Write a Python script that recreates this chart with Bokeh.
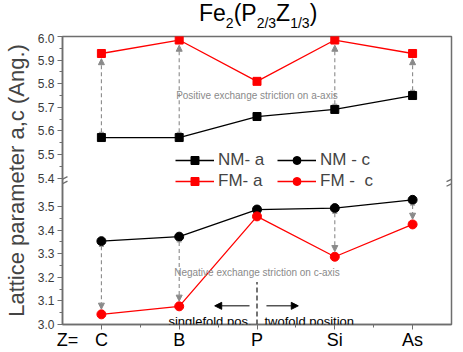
import numpy as np
from bokeh.plotting import figure
from bokeh.layouts import column
from bokeh.models import (FixedTicker, Arrow, NormalHead, TeeHead, Label,
                          Legend, LegendItem, ColumnDataSource, LinearAxis, Div)
from bokeh.embed import file_html
from bokeh.resources import INLINE

# ---------------- data ----------------
elements = ["C", "B", "P", "Si", "As"]
nm_a = [5.572, 5.572, 5.661, 5.691, 5.750]
fm_a = [5.928, 5.985, 5.810, 5.985, 5.928]
nm_c = [3.353, 3.372, 3.487, 3.493, 3.528]
fm_c = [3.043, 3.077, 3.458, 3.287, 3.424]
arrow_sites = ["C", "B", "Si", "As"]

lower_ticks = [3.0, 3.1, 3.2, 3.3, 3.4, 3.5]
upper_ticks = [5.4, 5.5, 5.6, 5.7, 5.8, 5.9, 6.0]

# ---------------- broken axis mapping ----------------
LOW_TOP = 3.5
UP_BOTTOM = 5.4
GAP = 0.12


def up(v):
    return v - UP_BOTTOM + LOW_TOP + GAP


FONT = "Liberation Sans"
RED = "#ff0000"
GRAY = "#8a8a8a"
FRAME = "#6e6e6e"

# frame pixel geometry (window coords) for placing decorations
FX0, FX1, FY0, FY1 = 60.0, 451.0, 38.3, 325.3
XR = (-0.5, 4.5)
YR = (3.0, up(6.0))


def xpx(px):
    return XR[0] + (px - FX0) / (FX1 - FX0) * (XR[1] - XR[0])


def ypx(py):
    return YR[0] + (FY1 - py) / (FY1 - FY0) * (YR[1] - YR[0])


x = list(range(len(elements)))

TITLE_H = 33
p = figure(width=463, height=352 - TITLE_H, x_range=XR, y_range=YR,
           output_backend="svg", toolbar_location=None,
           min_border_left=60, min_border_right=12, min_border_top=3,
           min_border_bottom=27, margin=0)
p.grid.visible = False
p.outline_line_color = FRAME
p.outline_line_width = 1.5
p.background_fill_color = "white"

# y axis
yt = lower_ticks + [up(v) for v in upper_ticks]
ymin = [v + 0.05 for v in lower_ticks[:-1]] + [up(v + 0.05) for v in upper_ticks[:-1]]
p.yaxis.ticker = FixedTicker(ticks=yt, minor_ticks=ymin)
overrides = {}
for v in lower_ticks:
    overrides[v] = f"{v:.1f}"
for v in upper_ticks:
    overrides[up(v)] = f"{v:.1f}"
p.yaxis.major_label_overrides = overrides
p.yaxis.axis_label = "Lattice parameter a,c (Ang.)"
p.yaxis.axis_label_text_font = FONT
p.yaxis.axis_label_text_font_size = "22px"
p.yaxis.axis_label_text_font_style = "normal"
p.yaxis.axis_label_standoff = 6
p.yaxis.major_label_text_font = FONT
p.yaxis.major_label_text_font_size = "12px"
p.yaxis.major_label_text_color = "#3a3a3a"
p.yaxis.major_label_standoff = 3

# x axis: tick marks only (closest to the frame)
p.xaxis.ticker = FixedTicker(ticks=x, minor_ticks=[i + 0.5 for i in x[:-1]])
p.xaxis.major_label_overrides = {i: "" for i in x}
p.xaxis.major_label_text_font_size = "1px"
p.xaxis.major_label_standoff = 0

for ax in (p.xaxis[0], p.yaxis[0]):
    ax.axis_line_color = FRAME
    ax.axis_line_width = 1.5
    ax.major_tick_line_color = FRAME
    ax.minor_tick_line_color = FRAME
    ax.major_tick_in = 0
    ax.major_tick_out = 5
    ax.minor_tick_in = 0
    ax.minor_tick_out = 3

# x axis labels (with the "Z=" prefix)
Z_POS = xpx(65)
lab_axis = LinearAxis(ticker=FixedTicker(ticks=[Z_POS] + x, minor_ticks=[]),
                      major_label_overrides={Z_POS: "Z=", **{i: e for i, e in enumerate(elements)}},
                      axis_line_alpha=0, major_tick_out=0, major_tick_in=0,
                      major_label_standoff=0, major_label_text_font=FONT,
                      major_label_text_font_size="18px",
                      major_label_text_color="black")
p.add_layout(lab_axis, "below")

# ---------------- exchange-striction arrows ----------------
off = 0.022
idx = [elements.index(s) for s in arrow_sites]
a_src = ColumnDataSource(dict(
    x=[i for i in idx],
    y0=[up(nm_a[i]) + off for i in idx],
    y1=[up(fm_a[i]) - off for i in idx]))
c_src = ColumnDataSource(dict(
    x=[i for i in idx],
    y0=[nm_c[i] - off for i in idx],
    y1=[fm_c[i] + off for i in idx]))
for src in (a_src, c_src):
    p.add_layout(Arrow(source=src, x_start="x", y_start="y0", x_end="x", y_end="y1",
                       line_color=GRAY, line_width=1.1, line_dash="4 3",
                       start=TeeHead(size=5, line_color=GRAY, line_width=1),
                       end=NormalHead(size=6, line_color=GRAY, fill_color=GRAY,
                                      line_width=1)))

# ---------------- data series ----------------
ua = [up(v) for v in nm_a]
uf = [up(v) for v in fm_a]
r1 = p.line(x, ua, line_color="black", line_width=1.3)
s1 = p.scatter(x, ua, marker="square", size=8, fill_color="black", line_color="black")
r2 = p.line(x, uf, line_color=RED, line_width=1.3)
s2 = p.scatter(x, uf, marker="square", size=8, fill_color=RED, line_color=RED)
r3 = p.line(x, nm_c, line_color="black", line_width=1.3)
s3 = p.scatter(x, nm_c, marker="circle", size=9, fill_color="black", line_color="black")
r4 = p.line(x, fm_c, line_color=RED, line_width=1.3)
s4 = p.scatter(x, fm_c, marker="circle", size=9, fill_color=RED, line_color=RED)

leg_style = dict(border_line_alpha=0, background_fill_alpha=0,
                 label_text_font=FONT, label_text_font_size="17px", glyph_width=39,
                 glyph_height=20, label_height=20, padding=0, margin=0, spacing=1,
                 label_standoff=4)
p.add_layout(Legend(items=[LegendItem(label="NM- a", renderers=[r1, s1]),
                           LegendItem(label="FM- a", renderers=[r2, s2])],
                    location=(113, 133), **leg_style))
p.add_layout(Legend(items=[LegendItem(label="NM - c", renderers=[r3, s3]),
                           LegendItem(label="FM -  c", renderers=[r4, s4])],
                    location=(215, 133), **leg_style))

# ---------------- break marks on the axes ----------------
P_IDX = elements.index("P")
bx_dx = 5 * (XR[1] - XR[0]) / (FX1 - FX0)
bx_dy = 2.5 * (YR[1] - YR[0]) / (FY1 - FY0)
for xb in (XR[0], XR[1]):
    for yb in (ypx(180.5), ypx(185)):
        p.segment(x0=xb - bx_dx, y0=yb - bx_dy, x1=xb + bx_dx, y1=yb + bx_dy,
                  line_color=FRAME, line_width=1.3)

# ---------------- singlefold / twofold markers ----------------
p.segment(x0=P_IDX, y0=YR[0], x1=P_IDX, y1=ypx(283), line_color="black",
          line_width=1.1, line_dash="5 3")
ya = ypx(306.7)
p.add_layout(Arrow(x_start=xpx(248), y_start=ya, x_end=xpx(213), y_end=ya,
                   line_color="black", line_width=1,
                   end=NormalHead(size=7, fill_color="black", line_color="black")))
p.add_layout(Arrow(x_start=xpx(265), y_start=ya, x_end=xpx(297), y_end=ya,
                   line_color="black", line_width=1,
                   end=NormalHead(size=7, fill_color="black", line_color="black")))


def lab(px, py, text, size, color="black", align="left", baseline="alphabetic"):
    p.add_layout(Label(x=xpx(px), y=ypx(py), text=text, text_font=FONT,
                       text_font_size=size, text_color=color, text_align=align,
                       text_baseline=baseline))


lab(250, 322, "singlefold pos.", "13px", align="right")
lab(263, 322, "twofold position", "13px")
lab(255.5, 97, "Positive exchange striction on a-axis", "10px", GRAY, "center", "middle")
lab(255.5, 273, "Negative exchange striction on c-axis", "10px", GRAY, "center", "middle")

# ---------------- title with subscripts ----------------
sub = '<span style="font-size:14px;vertical-align:-7px;">{}</span>'
title_html = ("Fe" + sub.format("2") + "(P" + sub.format("2/3") + "Z"
              + sub.format("1/3") + ")")
title = Div(text=title_html, width=463, height=TITLE_H, margin=0,
            styles={"font-family": FONT, "font-size": "23px", "color": "black",
                    "padding-left": "199px", "padding-top": "0px",
                    "line-height": "normal", "white-space": "nowrap"})

layout = column(title, p, spacing=0, margin=0)
open("out.html", "w").write(file_html(layout, INLINE))
